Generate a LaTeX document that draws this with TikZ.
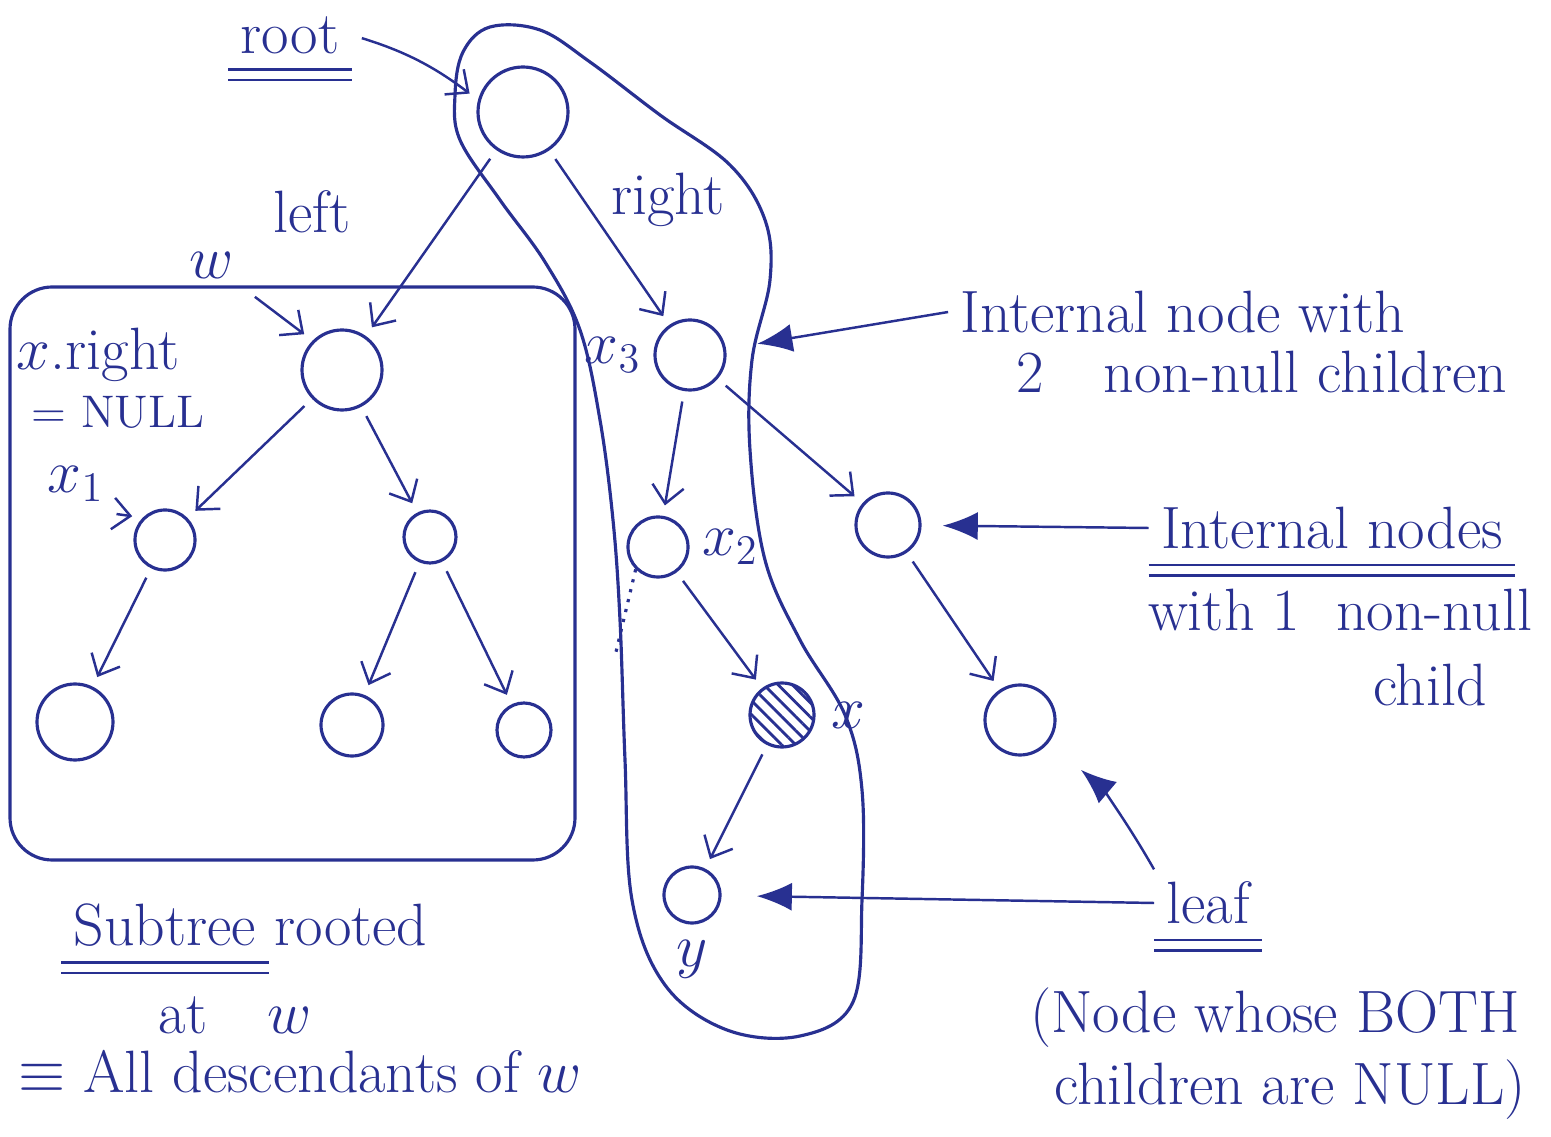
\documentclass[tikz,border=0pt]{standalone}
\usepackage{fontspec}
\usepackage{tikz}
\usepackage{amsmath}
\usepackage{xcolor}
\usetikzlibrary{arrows.meta, positioning, calc, patterns.meta}
\definecolor{ink}{RGB}{40, 48, 145}

\begin{document}
\begin{tikzpicture}[
    x=0.1mm, y=-0.1mm,
    every node/.style={text=ink, font=\fontsize{17}{20}\selectfont},
    vertex/.style={circle, draw=ink, line width=0.9pt, inner sep=0pt},
    edge/.style={draw=ink, line width=0.7pt, -{Straight Barb[length=5pt, width=9pt]}, shorten >=3pt, shorten <=3pt},
    pointer/.style={draw=ink, line width=0.7pt, -{Latex[length=10pt, width=8pt]}},
    uline/.style={draw=ink, line width=0.7pt}
]
\useasboundingbox (0,0) rectangle (1551,1137);

% Tree nodes
\node[vertex, minimum size=9mm] (root) at (523,112) {};
\node[vertex, minimum size=8mm] (w) at (342,370) {};
\node[vertex, minimum size=6mm] (x1) at (165,540) {};
\node[vertex, minimum size=5.2mm] (wr) at (430,537) {};
\node[vertex, minimum size=7.6mm] (la) at (75,722) {};
\node[vertex, minimum size=6.2mm] (lb) at (352,725) {};
\node[vertex, minimum size=5.4mm] (lc) at (524,730) {};
\node[vertex, minimum size=7mm] (x3) at (690,355) {};
\node[vertex, minimum size=6mm] (x2) at (658,547) {};
\node[vertex, minimum size=6.4mm] (n1) at (888,525) {};
\node[vertex, minimum size=7mm] (lf) at (1020,720) {};
\node[vertex, minimum size=6.4mm, pattern={Lines[angle=-45,distance=1mm,line width=0.8pt]}, pattern color=ink] (x) at (782,715) {};
\node[vertex, minimum size=5.6mm] (y) at (692,895) {};
\coordinate (nil) at (616,652);

% Subtree box and path loop
\draw[ink, line width=0.9pt, rounded corners=12pt] (10,287) rectangle (575,860);
\draw[ink, line width=0.9pt] plot[smooth cycle, tension=0.6] coordinates {
    (460,140) (500,200) (545,262) (580,330) (600,420) (613,520) (620,620)
    (625,760) (632,900) (665,985) (727,1030) (800,1036) (853,1002) (862,900)
    (862,790) (845,715) (800,640) (765,560) (750,450) (752,360) (770,280)
    (765,220) (730,165) (660,115) (590,62) (540,30) (490,27) (463,52) (455,95)};

% Labels
\node (rootlbl) at (290,35) {root};
\node (leftlbl) at (312,212) {left};
\node (rightlbl) at (668,200) {right};
\node (wlbl) at (212,265) {$w$};
\node (xr) at (98,355) {$x$.right};
\node[font=\fontsize{13}{15}\selectfont] (null) at (118,412) {= NULL};
\node (x1lbl) at (76,484) {$x_1$};
\node[left=0pt of x3] (x3lbl) {$x_3$};
\node[right=0pt of x2] (x2lbl) {$x_2$};
\node[right=1pt of x] (xlbl) {$x$};
\node[below=1pt of y] (ylbl) {$y$};

\node (int2a) at (1183,312) {Internal node with};
\node (int2b) at (1262,372) {2\quad non-null children};
\node (inl) at (1332,528) {Internal nodes};
\node (inl2) at (1340,610) {with 1\ \ non-null};
\node (inl3) at (1430,685) {child};
\node (leaflbl) at (1208,903) {leaf};
\node (lf1) at (1275,1018) {(Node whose BOTH};
\node (lf2) at (1290,1090) {children are NULL)};

\node (sub) at (165,925) {Subtree};
\node[right=-2pt of sub] (rooted) {rooted};
\node (atw) at (235,1015) {at\quad$w$};
\node (desc) at (300,1072) {$\equiv$ All descendants of $w$};

% Underlines
\foreach \n in {rootlbl, inl, leaflbl, sub} {
    \draw[uline] ([yshift=-1pt]\n.south west) -- ([yshift=-1pt]\n.south east);
    \draw[uline] ([yshift=-4pt]\n.south west) -- ([yshift=-4pt]\n.south east);
}

% Tree edges
\draw[edge] (root) -- (w);
\draw[edge] (root) -- (x3);
\draw[edge] (w) -- (x1);
\draw[edge] (w) -- (wr);
\draw[edge] (x1) -- (la);
\draw[edge] (wr) -- (lb);
\draw[edge] (wr) -- (lc);
\draw[edge] (x3) -- (x2);
\draw[edge] (x3) -- (n1);
\draw[edge] (x2) -- (x);
\draw[edge] (x) -- (y);
\draw[edge] (n1) -- (lf);
\draw[ink, line width=0.9pt, dotted] (x2.225) -- (nil);

% Label arrows
\draw[edge] (rootlbl.east) to[bend left=10] (root.165);
\draw[edge] (wlbl.south east) -- (w.north west);
\draw[edge, shorten <=0pt] (x1lbl.south east) -- (x1.north west);
\draw[pointer, shorten >=9pt] (int2a.west) -- (x3);
\draw[pointer, shorten >=6pt] (inl.west) -- (n1);
\draw[pointer, shorten >=10pt] (leaflbl.west) -- (y);
\draw[pointer, shorten >=12pt] (leaflbl.north west) to[bend right=10] (lf);

\end{tikzpicture}
\end{document}
